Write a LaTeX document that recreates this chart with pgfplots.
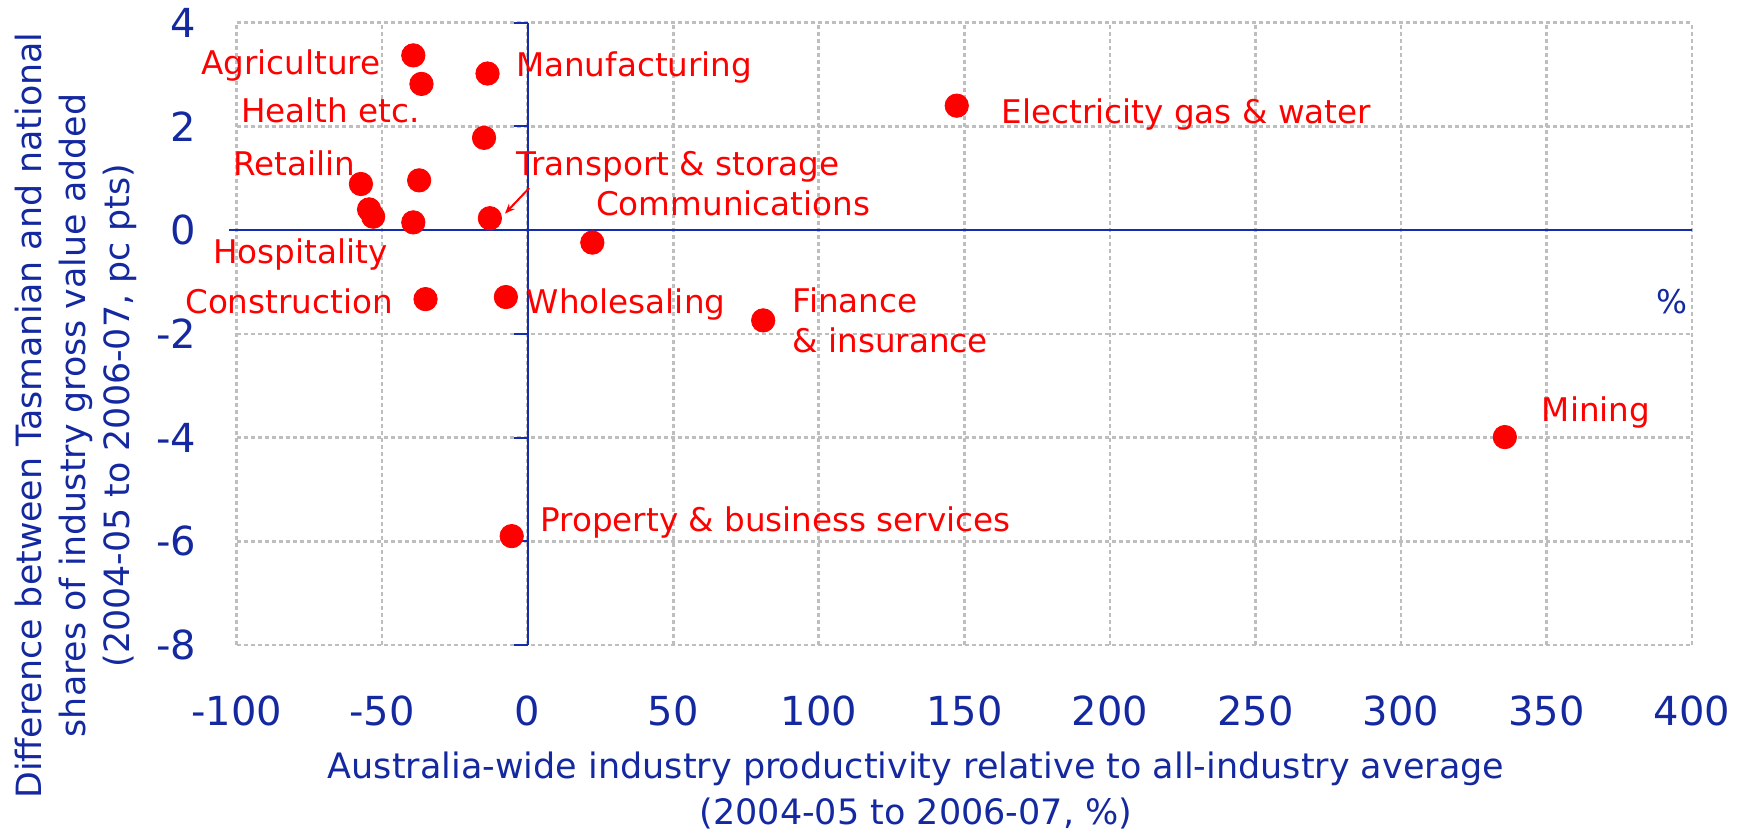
\documentclass[border=0pt]{standalone}
\usepackage{pgfplots}
\pgfplotsset{compat=1.18}
\usetikzlibrary{arrows.meta}
\usepackage{fontspec}
\setmainfont{DejaVu Sans}
\definecolor{tickblue}{RGB}{20,40,160}
\definecolor{axblue}{RGB}{20,45,175}
\definecolor{gridgray}{RGB}{190,190,190}
\definecolor{ptred}{RGB}{255,0,0}
\newcommand{\labfont}{\fontsize{16.3}{20}\selectfont}

\pgfplotstableread{
x y
-39.3 3.37
-36.5 2.82
-13.8 3.02
-15.0 1.78
-57.3 0.89
-37.3 0.96
-54.5 0.40
-53.1 0.26
-39.3 0.15
-13.0 0.23
-35.1 -1.33
-7.5 -1.29
22.2 -0.24
80.9 -1.74
147.4 2.40
335.7 -3.99
-5.5 -5.90
}\industries

\begin{document}
\begin{tikzpicture}
\begin{axis}[
  scale only axis, width=727.65pt, height=311.15pt,
  xmin=-100, xmax=400, ymin=-8, ymax=4,
  xtick={-100,-50,0,50,100,150,200,250,300,350,400},
  ytick={-8,-6,-4,-2,0,2,4},
  xticklabels={-100,-50,0,50,100,150,200,250,300,350,400},
  yticklabels={-8,-6,-4,-2,0,2,4},
  axis line style={draw=none},
  major tick length=0pt,
  grid=major,
  major grid style={gridgray, line width=1.3pt, dash pattern=on 2pt off 1.5pt},
  tick label style={font=\fontsize{20}{24}\selectfont, text=tickblue},
  xticklabel style={anchor=north, inner sep=0pt, yshift=-25pt},
  yticklabel style={anchor=east, inner sep=0pt, xshift=-20pt},
  xlabel={Australia-wide industry productivity relative to all-industry average\\(2004-05 to 2006-07, \%)},
  ylabel={Difference between Tasmanian and national\\shares of industry gross value added\\(2004-05 to 2006-07, pc pts)},
  xlabel style={at={(rel axis cs:0.4668,-0.2335)}, anchor=center, align=center, inner sep=0pt,
    font=\fontsize{17.5}{23}\selectfont, text=tickblue},
  ylabel style={at={(rel axis cs:-0.1105,0.3688)}, anchor=center, align=center, inner sep=0pt,
    font=\fontsize{17.4}{22}\selectfont, text=tickblue},
  clip=false,
]
\path (rel axis cs:-0.1626,-0.2989) rectangle (rel axis cs:1.0378,1.0365);
\draw[axblue, line width=1pt] (axis cs:0,4) -- (axis cs:0,-8);
\draw[axblue, line width=1pt] (axis cs:-102.5,0) -- (axis cs:400,0);
\pgfplotsinvokeforeach{4,2,0,-2,-4,-6,-8}{
  \draw[axblue, line width=1pt] (axis cs:0,#1) -- ++(-7pt,0pt);
}

\node[anchor=base east, inner sep=0pt, text=ptred, font=\labfont] at (axis cs:-50.4,3.01) {Agriculture};
\node[anchor=base east, inner sep=0pt, text=ptred, font=\labfont] at (axis cs:-37.0,2.08) {Health etc.};
\node[anchor=base west, inner sep=0pt, text=ptred, font=\labfont] at (axis cs:-4.1,2.96) {Manufacturing};
\node[anchor=base west, inner sep=0pt, text=ptred, font=\labfont] at (axis cs:162.8,2.06) {Electricity gas \& water};
\node[anchor=base west, inner sep=0pt, text=ptred, font=\labfont] at (axis cs:-101.2,1.05) {Retailin};
\node[anchor=base west, inner sep=0pt, text=ptred, font=\labfont] at (axis cs:-4.1,1.05) {Transport \& storage};
\node[anchor=base west, inner sep=0pt, text=ptred, font=\labfont] at (axis cs:23.4,0.28) {Communications};
\node[anchor=base west, inner sep=0pt, text=ptred, font=\labfont] at (axis cs:-108.1,-0.65) {Hospitality};
\node[anchor=base east, inner sep=0pt, text=ptred, font=\labfont] at (axis cs:-46.2,-1.61) {Construction};
\node[anchor=base west, inner sep=0pt, text=ptred, font=\labfont] at (axis cs:-0.4,-1.61) {Wholesaling};
\node[anchor=base west, inner sep=0pt, text=ptred, font=\labfont] at (axis cs:90.9,-1.58) {Finance};
\node[anchor=base west, inner sep=0pt, text=ptred, font=\labfont] at (axis cs:90.9,-2.36) {\& insurance};
\node[anchor=base west, inner sep=0pt, text=ptred, font=\labfont] at (axis cs:348.3,-3.68) {Mining};
\node[anchor=base west, inner sep=0pt, text=ptred, font=\labfont] at (axis cs:4.2,-5.82) {Property \& business services};
\node[anchor=base east, inner sep=0pt, text=tickblue, font=\labfont] at (axis cs:398.6,-1.61) {\%};
\draw[ptred, line width=1pt, -{Stealth[length=5pt,width=4pt]}] (axis cs:0.5,0.81) -- (axis cs:-7.8,0.32);

\addplot[only marks, mark=*, mark size=5.85pt, mark options={fill=ptred, draw=ptred}] table {\industries};
\end{axis}
\end{tikzpicture}
\end{document}
